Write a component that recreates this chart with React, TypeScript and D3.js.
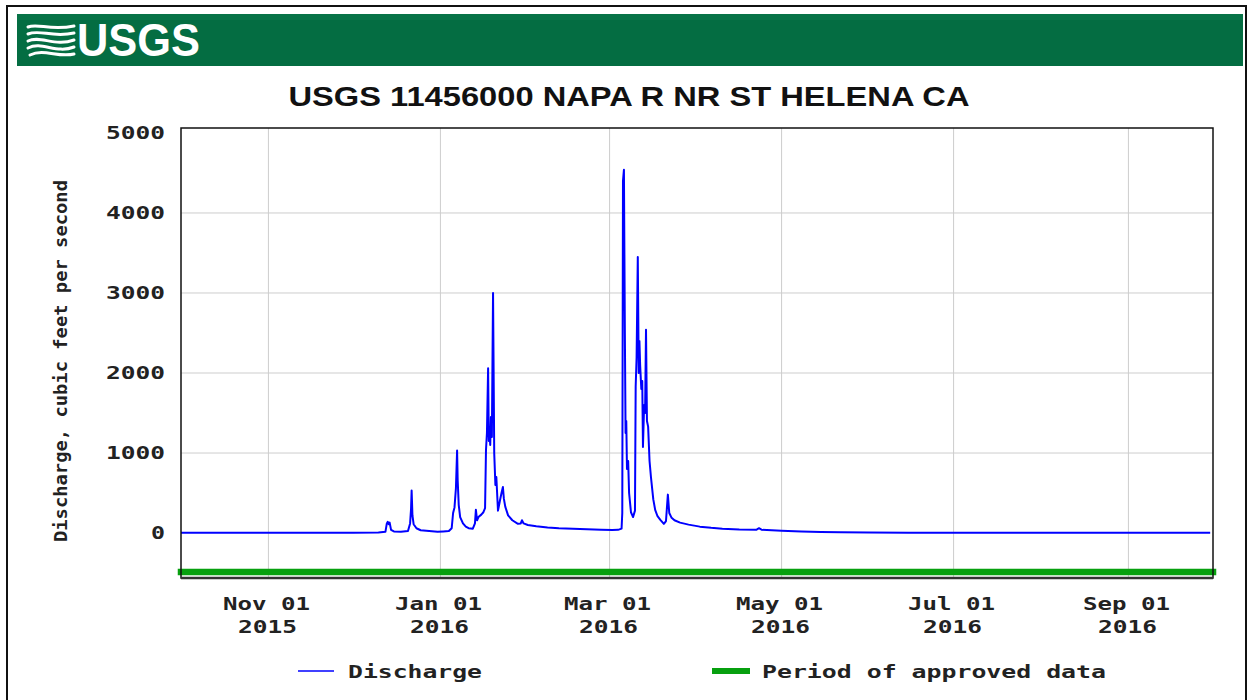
import React from 'react';
import * as d3 from 'd3';

// ---- data ----
const dischargeDates = [
  "2015-10-01 00","2015-10-15 00","2015-11-01 00","2015-11-15 00","2015-12-01 00","2015-12-10 00",
  "2015-12-12 12","2015-12-13 00","2015-12-13 08","2015-12-13 16","2015-12-14 00","2015-12-14 12",
  "2015-12-15 12","2015-12-18 00","2015-12-20 12","2015-12-21 06","2015-12-21 14","2015-12-21 19",
  "2015-12-22 02","2015-12-22 12","2015-12-23 12","2015-12-25 00","2015-12-28 00","2015-12-31 00",
  "2016-01-02 00","2016-01-04 00","2016-01-05 00","2016-01-05 12","2016-01-06 00","2016-01-06 12",
  "2016-01-06 22","2016-01-07 03","2016-01-07 12","2016-01-08 00","2016-01-09 00","2016-01-10 00",
  "2016-01-11 00","2016-01-12 12","2016-01-13 06","2016-01-13 14","2016-01-14 00","2016-01-14 12",
  "2016-01-15 12","2016-01-16 06","2016-01-16 20","2016-01-17 04","2016-01-17 12","2016-01-17 22",
  "2016-01-18 04","2016-01-18 10","2016-01-18 16","2016-01-18 22","2016-01-19 06","2016-01-19 16",
  "2016-01-20 02","2016-01-20 12","2016-01-20 20","2016-01-21 10","2016-01-22 02","2016-01-22 16",
  "2016-01-23 04","2016-01-23 12","2016-01-24 00","2016-01-25 00","2016-01-26 12","2016-01-28 12",
  "2016-01-29 12","2016-01-29 22","2016-01-30 12","2016-02-01 00","2016-02-04 00","2016-02-08 00",
  "2016-02-12 00","2016-02-17 00","2016-02-22 00","2016-02-27 00","2016-03-02 00","2016-03-04 00",
  "2016-03-05 06","2016-03-05 12","2016-03-05 18","2016-03-06 02","2016-03-06 10","2016-03-06 16",
  "2016-03-06 22","2016-03-07 04","2016-03-07 14","2016-03-07 22","2016-03-08 14","2016-03-09 08",
  "2016-03-10 00","2016-03-10 06","2016-03-10 14","2016-03-11 00","2016-03-11 08","2016-03-11 14",
  "2016-03-11 20","2016-03-12 06","2016-03-12 14","2016-03-12 20","2016-03-13 06","2016-03-13 14",
  "2016-03-13 22","2016-03-14 06","2016-03-14 16","2016-03-15 04","2016-03-15 16","2016-03-16 12",
  "2016-03-17 04","2016-03-18 00","2016-03-19 00","2016-03-20 06","2016-03-21 00","2016-03-21 16",
  "2016-03-22 04","2016-03-23 00","2016-03-24 00","2016-03-26 00","2016-03-29 00","2016-04-02 00",
  "2016-04-06 00","2016-04-10 00","2016-04-16 00","2016-04-22 00","2016-04-23 00","2016-04-24 00",
  "2016-05-01 00","2016-05-08 00","2016-05-15 00","2016-05-22 00","2016-06-01 00","2016-06-15 00",
  "2016-07-01 00","2016-08-01 00","2016-09-01 00","2016-09-30 00"
];
const dischargeValues = [
  2, 2, 2, 3, 5, 8,
  15, 120, 140, 110, 130, 40,
  20, 15, 25, 120, 300, 530,
  220, 110, 60, 35, 25, 15,
  20, 25, 60, 250, 320, 560,
  1030, 660, 350, 200, 120, 80,
  60, 55, 120, 290, 160, 200,
  230, 260, 310, 1040, 1250, 2060,
  1150, 1250, 1100, 1450, 1200, 3000,
  1000, 600, 700, 280, 400, 500,
  575, 430, 330, 220, 160, 115,
  120, 160, 120, 100, 85, 70,
  60, 52, 46, 40, 38, 40,
  55, 250, 4400, 4540, 2500, 1250,
  1400, 800, 900, 500, 260, 200,
  280, 1830, 2200, 3450, 2000, 2400,
  2100, 1800, 1900, 1075, 1600, 1500,
  2540, 1400, 1330, 900, 700, 420,
  290, 210, 165, 115, 150, 480,
  250, 190, 160, 130, 105, 80,
  65, 55, 45, 40, 60, 40,
  28, 20, 14, 10, 7, 5,
  4, 3, 2, 2
];
const yTickValues = [0, 1000, 2000, 3000, 4000, 5000];
const xTickDates = ["2015-11-01", "2016-01-01", "2016-03-01", "2016-05-01", "2016-07-01", "2016-09-01"];
const xTickMonthLabels = ["Nov 01", "Jan 01", "Mar 01", "May 01", "Jul 01", "Sep 01"];
const xTickYearLabels = ["2015", "2016", "2016", "2016", "2016", "2016"];
const xDomainDates = ["2015-10-01", "2016-10-01"];
const yDomainValues = [-562, 5062];
const approvedPeriodDates = ["2015-10-01", "2016-10-01"];
const approvedPeriodLevel = -487;
const titleText = "USGS 11456000 NAPA R NR ST HELENA CA";
const yAxisTitle = "Discharge, cubic feet per second";
const legendLabels = ["Discharge", "Period of approved data"];

const parseHour = d3.utcParse("%Y-%m-%d %H");
const parseDay = d3.utcParse("%Y-%m-%d");

const MONO = "'DejaVu Sans Mono', monospace";

export default function App() {
  const left = 181, right = 1213, top = 128, bottom = 578;
  const x = d3.scaleUtc()
    .domain(xDomainDates.map((d) => parseDay(d) as Date))
    .range([left, right]);
  const y = d3.scaleLinear().domain(yDomainValues).range([bottom, top]);

  const pts = dischargeDates.map((d, i) => [parseHour(d) as Date, dischargeValues[i]] as [Date, number]);
  const line = d3.line<[Date, number]>().x((d) => x(d[0])).y((d) => y(d[1]));

  const ap0 = x(parseDay(approvedPeriodDates[0]) as Date);
  const ap1 = x(parseDay(approvedPeriodDates[1]) as Date);
  const apY = y(approvedPeriodLevel);

  const charW = 15;

  return (
    <svg width={1248} height={700} style={{ position: 'absolute', left: 0, top: 0, background: '#fff' }}>
      <rect x={0} y={0} width={1248} height={700} fill="#fff" />
      {/* outer frame */}
      <rect x={7} y={6} width={1239} height={700} fill="none" stroke="#111" strokeWidth={2} />
      {/* banner */}
      <rect x={17} y={14} width={1226} height={52} fill="#046d42" />
      <rect x={17} y={14} width={1226} height={6} fill="#0a7a4c" opacity={0.5} />
      {/* logo waves */}
      <g stroke="#fff" fill="none" strokeWidth={3} strokeLinecap="round">
        <path d="M28,27 C38,23 50,31 74,26" />
        <path d="M28,34 C40,29 52,38 74,33" />
        <path d="M28,41 C40,35 55,47 74,40" />
        <path d="M28,48 C42,41 56,54 74,47" />
        <path d="M30,55 C44,48 58,58 74,54" />
      </g>
      <text x={77} y={56} fill="#fff" fontFamily="'Liberation Sans', Arial, sans-serif" fontWeight="bold"
        fontSize={46} textLength={123} lengthAdjust="spacingAndGlyphs">USGS</text>

      {/* title */}
      <text x={629} y={106} textAnchor="middle" fontFamily="'Liberation Sans', Arial, sans-serif"
        fontWeight="bold" fontSize={28} textLength={681} lengthAdjust="spacingAndGlyphs" fill="#111">{titleText}</text>

      {/* gridlines */}
      <g stroke="#cdcdcd" strokeWidth={1}>
        {yTickValues.filter((v) => v > 0 && v < 5000).map((v) => (
          <line key={v} x1={left} x2={right} y1={y(v)} y2={y(v)} />
        ))}
        {xTickDates.map((d) => {
          const xx = x(parseDay(d) as Date);
          return <line key={d} x1={xx} x2={xx} y1={top} y2={bottom} />;
        })}
      </g>

      {/* discharge line */}
      <path d={line(pts) || ''} fill="none" stroke="#0000ff" strokeWidth={2} strokeLinejoin="round" />

      {/* approved period */}
      <line x1={ap0} x2={ap1} y1={apY} y2={apY} stroke="#07a00f" strokeWidth={6.5} strokeLinecap="square" />

      {/* plot frame */}
      <rect x={left} y={top} width={right - left} height={bottom - top} fill="none" stroke="#111" strokeWidth={1.5} />
      <line x1={left} x2={right} y1={bottom} y2={bottom} stroke="#333" strokeWidth={2.5} />

      {/* y tick labels */}
      {yTickValues.map((v) => {
        const s = String(v);
        return (
          <text key={v} x={165} y={y(v) + 6} textAnchor="end" fontFamily={MONO} fontWeight="bold" fontSize={17}
            textLength={s.length * charW - 1} lengthAdjust="spacingAndGlyphs" fill="#222">{s}</text>
        );
      })}

      {/* y axis title */}
      <text transform="translate(67,361) rotate(-90)" textAnchor="middle" fontFamily={MONO} fontWeight="bold"
        fontSize={17} textLength={362} lengthAdjust="spacingAndGlyphs" fill="#222">{yAxisTitle}</text>

      {/* x tick labels */}
      {xTickDates.map((d, i) => {
        const xx = x(parseDay(d) as Date);
        return (
          <g key={d}>
            <text x={xx - 2} y={610} textAnchor="middle" fontFamily={MONO} fontWeight="bold" fontSize={17}
              textLength={87} lengthAdjust="spacingAndGlyphs" fill="#222">{xTickMonthLabels[i]}</text>
            <text x={xx - 1} y={633} textAnchor="middle" fontFamily={MONO} fontWeight="bold" fontSize={17}
              textLength={59} lengthAdjust="spacingAndGlyphs" fill="#222">{xTickYearLabels[i]}</text>
          </g>
        );
      })}

      {/* legend */}
      <line x1={298} x2={334} y1={671} y2={671} stroke="#0000ff" strokeWidth={1.5} />
      <text x={348} y={678} fontFamily={MONO} fontWeight="bold" fontSize={17}
        textLength={134} lengthAdjust="spacingAndGlyphs" fill="#222">{legendLabels[0]}</text>
      <line x1={712} x2={750} y1={671} y2={671} stroke="#07a00f" strokeWidth={6} />
      <text x={762} y={678} fontFamily={MONO} fontWeight="bold" fontSize={17}
        textLength={344} lengthAdjust="spacingAndGlyphs" fill="#222">{legendLabels[1]}</text>
    </svg>
  );
}
